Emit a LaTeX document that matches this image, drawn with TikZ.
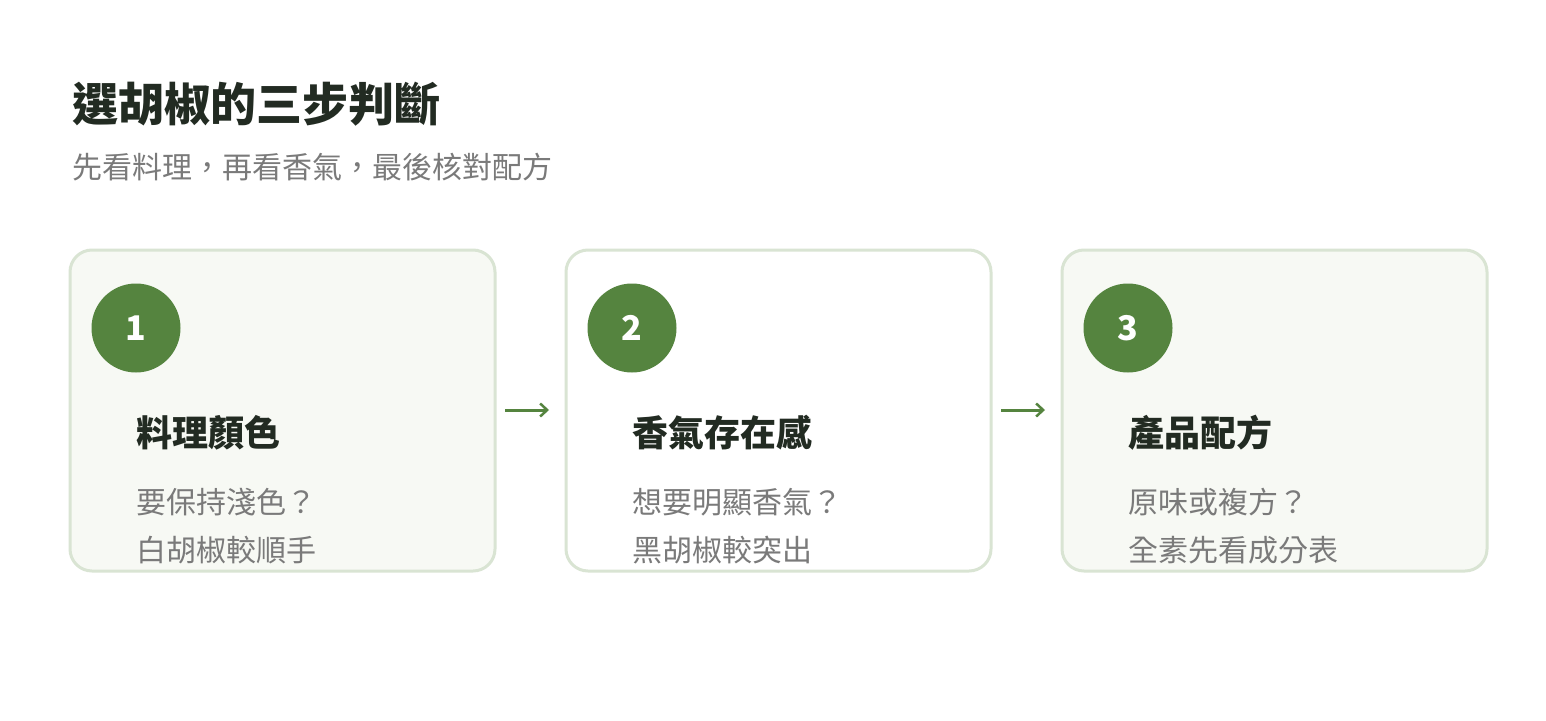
\documentclass[tikz,border=0pt]{standalone}
\usepackage{fontspec}
\setmainfont{Noto Sans CJK TC}
\newfontfamily\cjkb{Noto Sans CJK TC}[FakeBold=0]
\usetikzlibrary{arrows.meta}
\definecolor{grn}{HTML}{55843F}
\definecolor{brd}{HTML}{D9E4D3}
\definecolor{lite}{HTML}{F7F9F4}
\definecolor{dark}{HTML}{222B22}
\definecolor{gry}{HTML}{7A7A7A}
\begin{document}
\begin{tikzpicture}[x=1pt,y=-1pt,
 card/.style={draw=brd,line width=3pt,rounded corners=22pt},
 num/.style={circle,fill=grn,minimum size=89pt,inner sep=0,text=white,font=\fontsize{34}{34}\selectfont\bfseries},
 head/.style={anchor=west,text=dark,font=\fontsize{36}{36}\selectfont\bfseries,inner sep=0},
 body/.style={anchor=west,text=gry,font=\fontsize{30}{30}\selectfont,inner sep=0},
 arr/.style={draw=grn,line width=3pt,-{Straight Barb[length=7pt,width=13pt,line width=2.5pt]}}]
\useasboundingbox[fill=white] (0,0) rectangle (1546,720);
\node[anchor=west,inner sep=0,text=dark,font=\fontsize{46}{46}\selectfont\bfseries] (t) at (72,104) {選胡椒的三步判斷};
\node[anchor=west,inner sep=0,text=gry,font=\fontsize{30}{30}\selectfont] (s) at (72,167) {先看料理，再看香氣，最後核對配方};
\foreach \i/\x/\f/\n/\h/\a/\b in {1/70/lite/1/料理顏色/要保持淺色？/白胡椒較順手,
  2/566/white/2/香氣存在感/想要明顯香氣？/黑胡椒較突出,
  3/1062/lite/3/產品配方/原味或複方？/全素先看成分表}{
 \draw[card,fill=\f] (\x,250) rectangle ++(425,321) node[pos=0.5,inner sep=0] (c\i) {};
 \node[num] (n\i) at (\x+66,328) {\n};
 \node[head] (h\i) at (\x+66,433) {\h};
 \node[body] (a\i) at (\x+66,502) {\a};
 \node[body] (b\i) at (\x+66,550) {\b};
}
\coordinate (p1) at (505,410); \coordinate (q1) at (549,410);
\coordinate (p2) at (1001,410); \coordinate (q2) at (1045,410);
\draw[arr] (p1) -- (q1);
\draw[arr] (p2) -- (q2);
\end{tikzpicture}
\end{document}
